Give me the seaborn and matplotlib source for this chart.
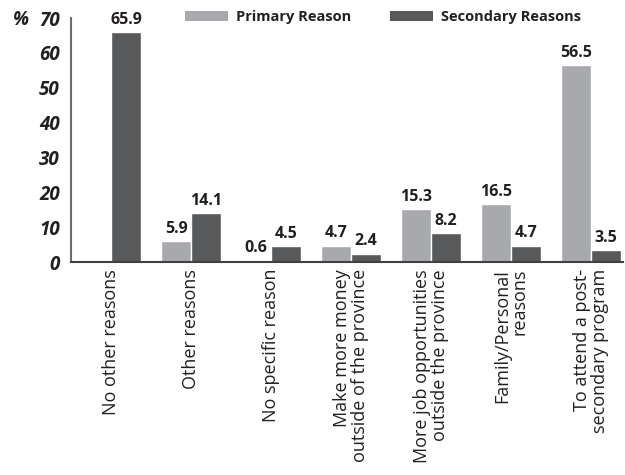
import matplotlib
matplotlib.use("Agg")
import matplotlib.pyplot as plt
import seaborn as sns
import pandas as pd
from matplotlib.patches import Patch

# Reasons for leaving the province (% of respondents)
categories = [
    "No other reasons",
    "Other reasons",
    "No specific reason",
    "Make more money\noutside of the province",
    "More job opportunities\noutside the province",
    "Family/Personal\nreasons",
    "To attend a post-\nsecondary program",
]
primary = [0.0, 5.9, 0.6, 4.7, 15.3, 16.5, 56.5]
secondary = [65.9, 14.1, 4.5, 2.4, 8.2, 4.7, 3.5]
series_names = ["Primary Reason", "Secondary Reasons"]
y_ticks = [0, 10, 20, 30, 40, 50, 60, 70]

df = pd.DataFrame({
    "reason": categories * 2,
    "series": [series_names[0]] * len(categories) + [series_names[1]] * len(categories),
    "value": primary + secondary,
})

sns.set_theme(style="white")
plt.rcParams["font.family"] = ["Open Sans", "DejaVu Sans"]

LIGHT = "#a7a9ac"
DARK = "#58595b"
TEXT = "#231f20"

fig = plt.figure(figsize=(6.25, 4.75), dpi=100)
ax = fig.add_axes([71 / 625, 1 - 262 / 475, 552 / 625, 244 / 475])

sns.barplot(
    data=df, x="reason", y="value", hue="series",
    palette=[LIGHT, DARK], width=0.75, saturation=1,
    order=categories, hue_order=series_names, ax=ax, legend=False,
)

# Value labels above each non-empty bar
for container in ax.containers:
    labels = [f"{v:.1f}" if v > 0 else "" for v in container.datavalues]
    ax.bar_label(container, labels=labels, padding=3, fontsize=11.5,
                 fontweight="bold", color=TEXT)

ax.set_xlim(-0.5, 6.4)
ax.set_ylim(0, 70)
ax.set_yticks(y_ticks)
ax.set_yticklabels([str(t) for t in y_ticks], fontsize=13.5, fontweight="bold",
                   fontstyle="italic", color=TEXT)
ax.tick_params(axis="y", length=0, pad=8)
ax.tick_params(axis="x", length=0, pad=5)
ax.set_xticks(range(len(categories)))
ax.set_xticklabels(categories, rotation=90, ha="center", va="top",
                   multialignment="right", fontsize=13, color=TEXT,
                   linespacing=0.95)
ax.set_xlabel("")
ax.set_ylabel("")

for side in ["top", "right"]:
    ax.spines[side].set_visible(False)
ax.spines["left"].set_color("#6d6e71")
ax.spines["left"].set_linewidth(1.5)
ax.spines["bottom"].set_color("#414042")
ax.spines["bottom"].set_linewidth(1.5)

fig.text(13 / 625, 1 - 20 / 475, "%", fontsize=13.5, fontweight="bold",
         fontstyle="italic", color=TEXT, va="center", ha="left")

handles = [Patch(facecolor=LIGHT, edgecolor="none"),
           Patch(facecolor=DARK, edgecolor="none")]
leg = fig.legend(handles, series_names, loc="center",
                 bbox_to_anchor=(383 / 625, 1 - 17 / 475), ncol=2,
                 frameon=False, fontsize=10.5, handlelength=2.95,
                 handleheight=0.75, handletextpad=0.6, columnspacing=2.6,
                 borderpad=0, borderaxespad=0)
for t in leg.get_texts():
    t.set_fontweight("bold")
    t.set_color(TEXT)

fig.savefig("out.png", dpi=100)
